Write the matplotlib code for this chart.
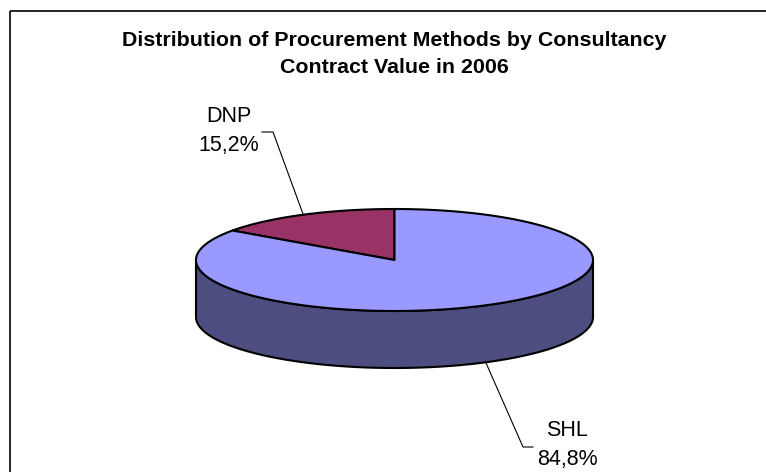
import numpy as np
import matplotlib
matplotlib.use("Agg")
import matplotlib.pyplot as plt
from matplotlib.patches import Polygon, Rectangle

plt.rcParams['font.family'] = ['Liberation Sans', 'DejaVu Sans']

# data
labels = ['DNP', 'SHL']
shares = [15.2, 84.8]
pct_text = ['15,2%', '84,8%']
top_colors = ['#993366', '#9999FF']
side_colors = ['#6B2447', '#4D4D80']
title = 'Distribution of Procurement Methods by Consultancy\nContract Value in 2006'

# pie geometry (pixels)
cx, cy = 394.5, 260.0
ra, rb = 198.5, 51.0
depth = 57.0
start = 90.0

fig = plt.figure(figsize=(7.66, 4.72), dpi=100)
ax = fig.add_axes([0, 0, 1, 1])
ax.set_xlim(0, 766)
ax.set_ylim(472, 0)
ax.axis('off')

# frame
ax.add_patch(Rectangle((10, 11), 780, 500, fill=False, ec='black', lw=1.2))

ax.text(394.5, 54, title, ha='center', va='center', fontsize=15.4,
        fontweight='bold', linespacing=1.52)


def ell(t, dy=0.0):
    t = np.radians(t)
    return np.column_stack([cx + ra * np.cos(t), cy - rb * np.sin(t) + dy])


# slice angle ranges (counterclockwise from 90 deg)
angles = []
a0 = start
for s in shares:
    a1 = a0 + 360 * s / 100.0
    angles.append((a0, a1))
    a0 = a1

# side walls: only the front half (180..360) is visible
for (a0, a1), sc in zip(angles, side_colors):
    lo, hi = a0 % 360, a0 % 360 + (a1 - a0)
    for k in (0, 360):
        s0 = max(lo, 180 + k)
        s1 = min(hi, 360 + k)
        if s1 > s0:
            t = np.linspace(s0, s1, 200)
            pts = np.vstack([ell(t), ell(t[::-1], depth)])
            ax.add_patch(Polygon(pts, closed=True, fc=sc, ec='black', lw=1.5,
                                 joinstyle='round'))

# top face
for (a0, a1), tc in zip(angles, top_colors):
    t = np.linspace(a0, a1, 300)
    pts = np.vstack([[[cx, cy]], ell(t)])
    ax.add_patch(Polygon(pts, closed=True, fc=tc, ec='black', lw=1.5,
                         joinstyle='round'))

# labels with leader lines
mids = [(a0 + a1) / 2 for a0, a1 in angles]
label_pos = [(229, 131), (567, 445)]
for i, (lab, pt) in enumerate(zip(labels, pct_text)):
    m = mids[i]
    on_front = 180 < (m % 360) < 360
    p = ell([m], depth if on_front else 0.0)[0]
    lx, ly = label_pos[i]
    if i == 0:
        elbow = (lx + 33, ly + 1)
        knee = (lx + 44, ly + 1)
    else:
        elbow = (lx - 34, ly + 2)
        knee = (lx - 44, ly + 2)
    ax.plot([p[0], knee[0], elbow[0]], [p[1], knee[1], elbow[1]],
            color='black', lw=0.8)
    ax.text(lx, ly, lab + '\n' + pt, ha='center', va='center',
            fontsize=15.5, linespacing=1.45)

fig.savefig('out.png', dpi=100)
